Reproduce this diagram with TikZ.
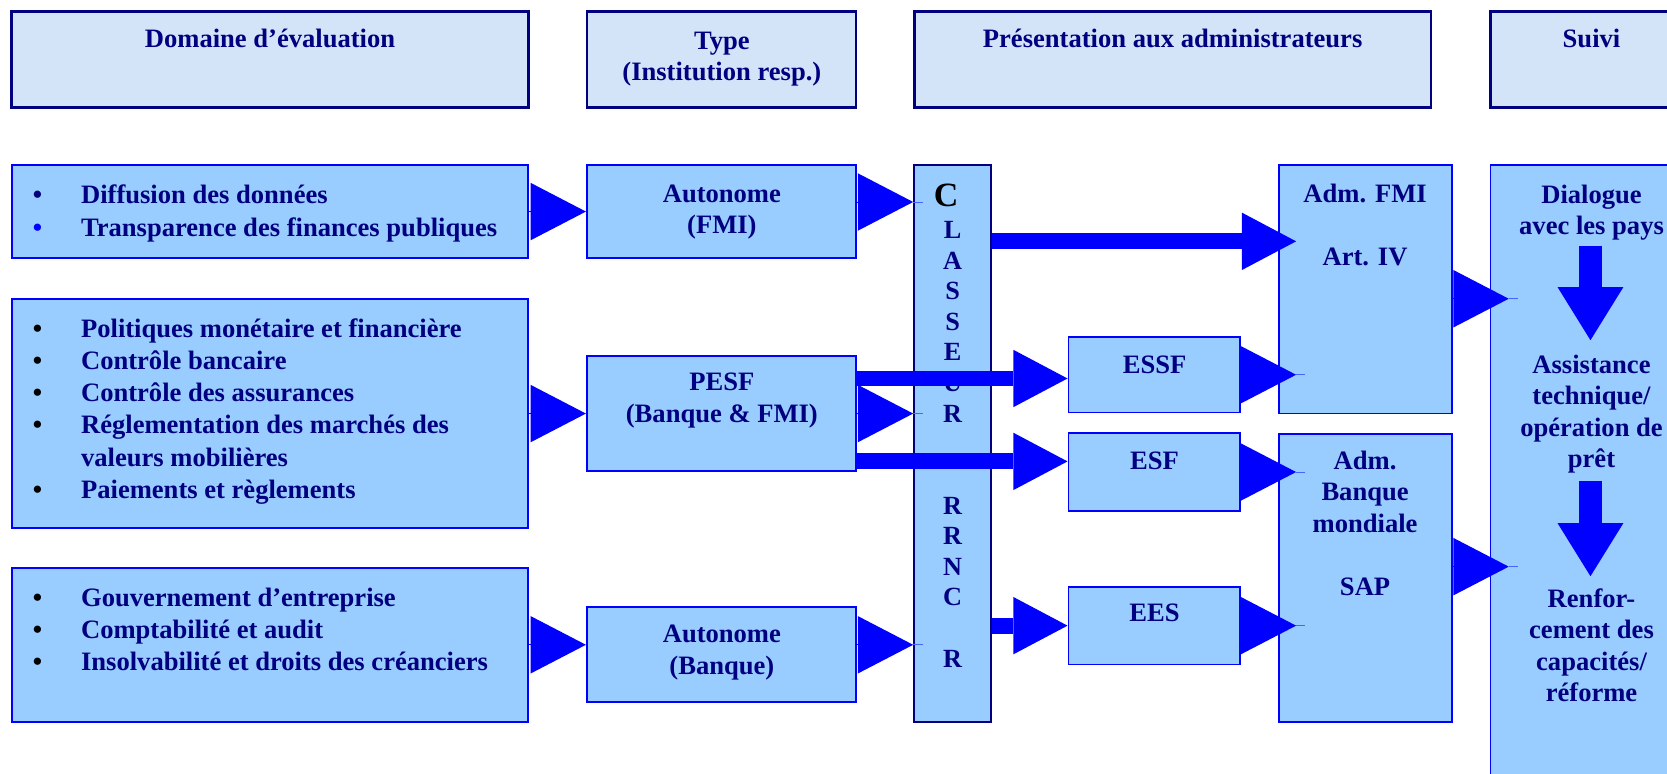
\documentclass[tikz,border=0pt]{standalone}
\usepackage{fontspec}
\setmainfont{Liberation Serif}
\usetikzlibrary{fit,calc,arrows.meta}
\definecolor{navy}{RGB}{0,0,128}
\definecolor{boxfill}{RGB}{153,204,255}
\definecolor{hdrfill}{RGB}{212,228,248}
\definecolor{arrblue}{RGB}{0,0,255}
\definecolor{tickblue}{RGB}{70,100,255}
\newcommand{\itm}[2][black]{\llap{\textcolor{#1}{\textbullet}\hspace{27.5pt}}#2}
\begin{document}
\begin{tikzpicture}[x=0.75pt,y=-0.75pt,
 hdr/.style={draw=navy,line width=1.8pt,fill=hdrfill,inner sep=0pt},
 box/.style={draw=arrblue,line width=1.3pt,fill=boxfill,inner sep=0pt},
 clsbox/.style={draw=navy,line width=1.6pt,fill=boxfill,inner sep=0pt},
 txt/.style={text=navy,font=\bfseries\fontsize{18.75}{22.2}\selectfont,align=center,inner sep=0pt,anchor=base},
 lst/.style={txt,align=left,anchor=base west,font=\bfseries\fontsize{18.75}{22.8}\selectfont},
 tri/.style={draw=arrblue,line width=0.6pt,-{Triangle[length=39pt,width=40.5pt,line width=0pt]}},
 big/.style={draw=arrblue,line width=11.25pt,-{Triangle[length=38.25pt,width=40.5pt,line width=0pt]}},
 down/.style={draw=arrblue,line width=16.5pt,-{Triangle[length=37.5pt,width=46.5pt,line width=0pt]}},
 tick/.style={draw=tickblue,line width=0.6pt}
]
\useasboundingbox (0,0) rectangle (1568,728);
\clip (0,0) rectangle (1568,728);
% headers (base anchor = baseline of last line)
\node[hdr,fit={(11,11)(497,101)}] (h1) {};
\node[txt] (h1t) at (254,45) {Domaine d’évaluation};
\node[hdr,fit={(552,11)(805,101)}] (h2) {};
\node[txt] (h2t) at (679,76) {Type\\(Institution resp.)};
\node[hdr,fit={(860,11)(1346,101)}] (h3) {};
\node[txt] (h3t) at (1103,45) {Présentation aux administrateurs};
\node[hdr,fit={(1402,11)(1600,101)}] (h4) {};
\node[txt] (h4t) at (1497,45) {Suivi};
% left column
\node[box,fit={(11,155)(497,243)}] (l1) {};
\node[lst] (l1t) at (76,222) {\itm[navy]{Diffusion des données}\\\itm[arrblue]{Transparence des finances publiques}};
\node[box,fit={(11,281)(497,497)}] (l2) {};
\node[lst] (l2t) at (76,469) {\itm{Politiques monétaire et financière}\\\itm{Contrôle bancaire}\\\itm{Contrôle des assurances}\\\itm{Réglementation des marchés des}\\valeurs mobilières\\\itm{Paiements et règlements}};
\node[box,fit={(11,534)(497,679)}] (l3) {};
\node[lst] (l3t) at (76,631) {\itm{Gouvernement d’entreprise}\\\itm{Comptabilité et audit}\\\itm{Insolvabilité et droits des créanciers}};
% type column
\node[box,fit={(552,155)(805,243)}] (a1) {};
\node[txt] (a1t) at (679,220) {Autonome\\(FMI)};
\node[box,fit={(552,335)(805,443)}] (pesf) {};
\node[txt] (pesft) at (679,397) {PESF\\(Banque \& FMI)};
\node[box,fit={(552,571)(805,660)}] (a3) {};
\node[txt] (a3t) at (679,634) {Autonome\\(Banque)};
% classeur
\node[clsbox,fit={(860,155)(932,679)}] (cls) {};
\node[text=black,font=\bfseries\fontsize{24}{24}\selectfont,inner sep=0pt,anchor=base] (clsc) at (890,194) {C};
\node[txt,font=\bfseries\fontsize{18.5}{21.6}\selectfont] (clst) at (896,627.5) {L\\A\\S\\S\\E\\U\\R\\~\\~\\R\\R\\N\\C\\~\\R};
% reports
\node[box,fit={(1005,317)(1166,388)}] (essf) {};
\node[txt] (essft) at (1086,351) {ESSF};
\node[box,fit={(1005,407)(1166,481)}] (esf) {};
\node[txt] (esft) at (1086,442) {ESF};
\node[box,fit={(1005,552)(1166,625)}] (ees) {};
\node[txt] (eest) at (1086,585) {EES};
% boards
\node[box,fit={(1203,155)(1366,389)}] (admf) {};
\node[txt] (admft) at (1284,250) {Adm. FMI\\~\\Art. IV};
\node[box,fit={(1203,408)(1366,679)}] (admb) {};
\node[txt] (admbt) at (1284,560) {Adm.\\Banque\\mondiale\\~\\SAP};
% follow-up
\node[box,fit={(1402,155)(1600,760)}] (dlg) {};
\node[txt] (dlg1) at (1497,220.6) {Dialogue\\avec les pays};
\node[txt] (dlg2) at (1497,439.8) {Assistance\\technique/\\opération de\\prêt};
\node[txt] (dlg3) at (1497,660) {Renfor-\\cement des\\capacités/\\réforme};
% levels
\coordinate (lv190) at (0,190);
\coordinate (lv227) at (0,227);
\coordinate (lv356) at (0,356);
\coordinate (lv434) at (0,434);
\coordinate (lv281) at (0,281);
\coordinate (lv533) at (0,533);
\coordinate (d1a) at (1496,231);
\coordinate (d1b) at (1496,320);
\coordinate (d2a) at (1496,452);
\coordinate (d2b) at (1496,542);
% left -> type
\draw[tri] (l1.east) -- (a1.west |- l1.east);
\draw[tri] (l2.east) -- (pesf.west |- l2.east);
\draw[tri] (l3.east) -- (a3.west |- l3.east);
% type -> classeur
\draw[tri] (a1.east |- lv190) -- (cls.west |- lv190);
\draw[tick] (cls.west |- lv190) -- ++(9,0);
\draw[tri] (pesf.east) -- (cls.west |- pesf.east);
\draw[tick] (cls.west |- pesf.east) -- ++(9,0);
\draw[tri] (a3.east |- l3.east) -- (cls.west |- l3.east);
\draw[tick] (cls.west |- l3.east) -- ++(9,0);
% big arrows
\draw[big] (cls.east |- lv227) -- ($(admf.west |- lv227)+(17,0)$);
\draw[big] (pesf.east |- lv356) -- (essf.west |- lv356);
\draw[big] (pesf.east |- lv434) -- (esf.west |- lv434);
\draw[big] (cls.east |- ees.west) -- (ees.west);
% reports -> boards
\draw[tri] (essf.east) -- ($(admf.west |- essf.east)+(17,0)$);
\draw[tick] ($(admf.west |- essf.east)+(17,0)$) -- ++(8,0);
\draw[tri] (esf.east) -- ($(admb.west |- esf.east)+(17,0)$);
\draw[tick] ($(admb.west |- esf.east)+(17,0)$) -- ++(8,0);
\draw[tri] (ees.east) -- ($(admb.west |- ees.east)+(17,0)$);
\draw[tick] ($(admb.west |- ees.east)+(17,0)$) -- ++(8,0);
% boards -> follow-up
\draw[tri] (admf.east |- lv281) -- ($(dlg.west |- lv281)+(18,0)$);
\draw[tick] ($(dlg.west |- lv281)+(18,0)$) -- ++(9,0);
\draw[tri] (admb.east |- lv533) -- ($(dlg.west |- lv533)+(18,0)$);
\draw[tick] ($(dlg.west |- lv533)+(18,0)$) -- ++(9,0);
% down arrows
\draw[down] (d1a) -- (d1b);
\draw[down] (d2a) -- (d2b);
\end{tikzpicture}
\end{document}
